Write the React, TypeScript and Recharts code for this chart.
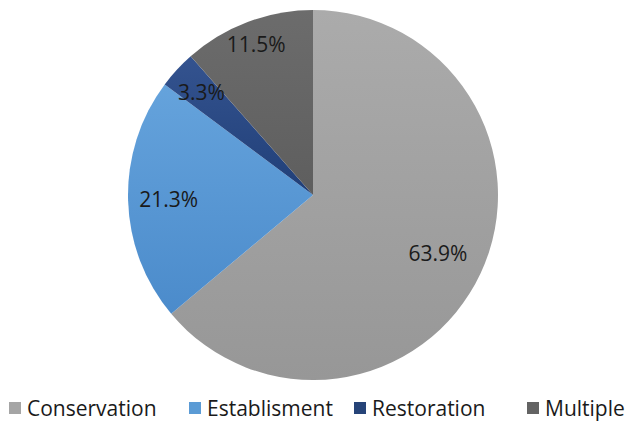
import React from "react";
import { PieChart, Pie, Cell, Legend } from "recharts";

const categories = ["Conservation", "Establisment", "Restoration", "Multiple"];
const shares = [63.9, 21.3, 3.3, 11.5];

const colorsTop = ["#ababab", "#65a3dc", "#34538f", "#6c6c6c"];
const colorsBottom = ["#979797", "#4b8bcb", "#203f78", "#5e5e5e"];
const legendColors = ["#a5a5a5", "#5b9bd5", "#264478", "#636363"];
const labelRadius = [0.745, 0.78, 0.82, 0.87];

const data = categories.map((name, i) => ({ name, value: shares[i] }));

const RAD = Math.PI / 180;
const FONT = "'Open Sans', 'Noto Sans', sans-serif";

const renderLabel = (props: any) => {
  const { cx, cy, midAngle, outerRadius, index, value } = props;
  const r = outerRadius * labelRadius[index];
  const x = cx + r * Math.cos(-midAngle * RAD);
  const y = cy + r * Math.sin(-midAngle * RAD);
  return (
    <text x={x} y={y} fill="#1a1a1a" fontSize={21} fontFamily={FONT} textAnchor="middle" dominantBaseline="central">
      {value.toFixed(1)}%
    </text>
  );
};

const renderLegend = () => (
  <div style={{ position: "relative", height: 28, fontFamily: FONT, fontSize: 21, lineHeight: "28px", color: "#1a1a1a" }}>
    {categories.map((c, i) => {
      const lefts = [9, 189, 354, 527];
      return (
        <div key={c} style={{ position: "absolute", left: lefts[i], top: 0, display: "flex", alignItems: "center", whiteSpace: "nowrap", height: 28 }}>
          <span style={{ display: "inline-block", width: 12, height: 12, background: legendColors[i], marginRight: 6 }} />
          <span>{c}</span>
        </div>
      );
    })}
  </div>
);

export default function App() {
  return (
    <div style={{ position: "absolute", left: 0, top: 0, width: 630, height: 423, background: "#fff" }}>
      <PieChart width={630} height={423} margin={{ top: 0, right: 0, bottom: 0, left: 0 }}>
        <defs>
          {categories.map((c, i) => (
            <linearGradient key={c} id={`g${i}`} x1="0" y1="0" x2="0" y2="1">
              <stop offset="0%" stopColor={colorsTop[i]} />
              <stop offset="100%" stopColor={colorsBottom[i]} />
            </linearGradient>
          ))}
        </defs>
        <Pie
          data={data}
          dataKey="value"
          nameKey="name"
          cx={313}
          cy={195}
          outerRadius={185}
          startAngle={90}
          endAngle={-270}
          stroke="none"
          label={renderLabel}
          labelLine={false}
          isAnimationActive={false}
        >
          {data.map((d, i) => (
            <Cell key={d.name} fill={`url(#g${i})`} />
          ))}
        </Pie>
        <Legend verticalAlign="bottom" wrapperStyle={{ left: 0, bottom: 1, width: 630 }} content={renderLegend} />
      </PieChart>
    </div>
  );
}
